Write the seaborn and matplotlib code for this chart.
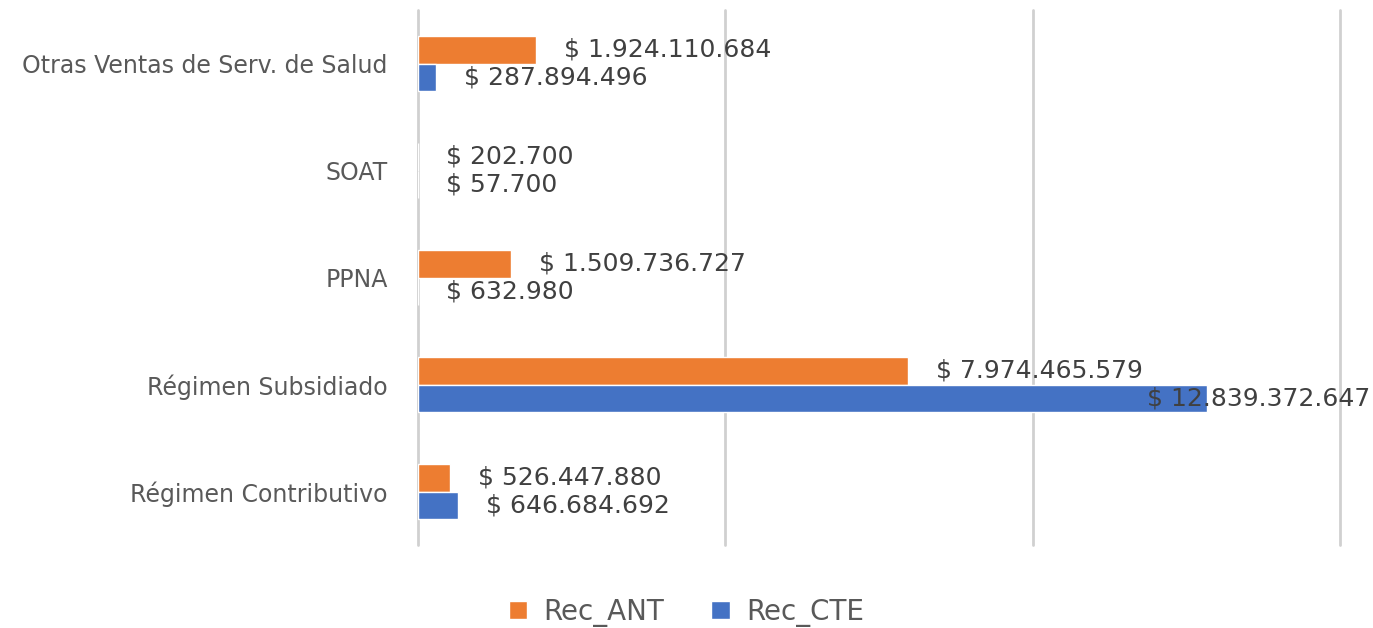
import matplotlib
matplotlib.use("Agg")
import matplotlib.pyplot as plt
import matplotlib.transforms as mtransforms
from matplotlib.patches import Patch
import seaborn as sns
import pandas as pd

categories = ["Otras Ventas de Serv. de Salud", "SOAT", "PPNA",
              "Régimen Subsidiado", "Régimen Contributivo"]
series_names = ["Rec_ANT", "Rec_CTE"]
rec_ant = [1924110684, 202700, 1509736727, 7974465579, 526447880]
rec_cte = [287894496, 57700, 632980, 12839372647, 646684692]
colors = ["#ED7D31", "#4472C4"]

df = pd.DataFrame({
    "cat": categories * 2,
    "serie": [series_names[0]] * len(categories) + [series_names[1]] * len(categories),
    "valor": rec_ant + rec_cte,
})

sns.set_style("white")
plt.rcParams["font.family"] = ["DejaVu Sans"]

fig = plt.figure(figsize=(13.73, 6.28), dpi=100)
ax = fig.add_axes([0.3045, 0.132, 0.976 - 0.3045, 0.984 - 0.132])

sns.barplot(data=df, y="cat", x="valor", hue="serie", order=categories,
            hue_order=series_names, palette=colors, orient="h", width=0.52,
            ax=ax, legend=False, saturation=1)

ax.set_xlim(0, 15e9)
ax.set_ylim(4.5, -0.5)
ax.set_xticks([0, 5e9, 10e9, 15e9])
ax.set_xticklabels([])
ax.tick_params(axis="x", length=0)
ax.tick_params(axis="y", length=0, pad=22, labelsize=17, labelcolor="#595959")
ax.grid(axis="x", color="#D0D0D0", linewidth=2)
for gl in ax.get_xgridlines():
    gl.set_clip_on(False)
ax.set_axisbelow(True)
for s in ax.spines.values():
    s.set_visible(False)
ax.set_xlabel("")
ax.set_ylabel("")

def fmt(v):
    return "$ " + f"{v:,}".replace(",", ".")

VFS = 18
fig_right = mtransforms.blended_transform_factory(fig.transFigure, ax.transData)
for container in ax.containers:
    for bar in container:
        w = bar.get_width()
        yc = bar.get_y() + bar.get_height() / 2
        label = fmt(int(round(w)))
        disp_end = ax.transData.transform((w, yc))[0]
        if disp_end + 28 + 215 > fig.bbox.width:
            ax.text(0.998, yc, label, transform=fig_right, ha="right",
                    va="center", fontsize=VFS, color="#404040")
        else:
            ax.annotate(label, xy=(w, yc), xytext=(20, 0),
                        textcoords="offset points", ha="left", va="center",
                        fontsize=VFS, color="#404040")

handles = [Patch(facecolor=c, label=n) for c, n in zip(colors, series_names)]
fig.legend(handles=handles, loc="center", bbox_to_anchor=(0.5, 0.025), ncol=2,
           frameon=False, fontsize=20, labelcolor="#595959", handlelength=0.65,
           handleheight=0.65, columnspacing=1.7, handletextpad=0.6)

fig.savefig("out.png", dpi=100)
